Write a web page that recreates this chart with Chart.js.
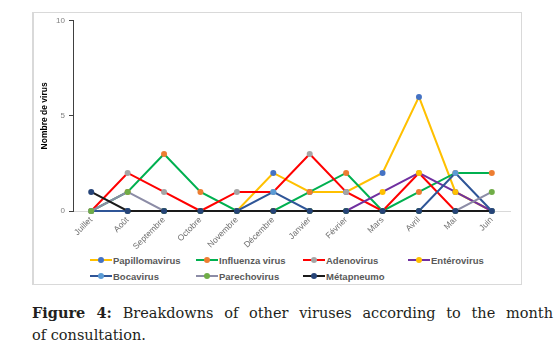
<!DOCTYPE html>
<html lang="fr">
<head>
<meta charset="utf-8">
<script src="https://cdn.jsdelivr.net/npm/chart.js@4.4.1/dist/chart.umd.min.js"></script>
<style>
   body { margin: 0; background: #fff; width: 560px; height: 354px; position: relative; overflow: hidden; }
   .frame { position: absolute; left: 32px; top: 12px; width: 490px; height: 273px; box-sizing: border-box; border: 1px solid #d9d9d9; border-left-width: 2px; }
   #virus-chart { position: absolute; left: 32px; top: 12px; }
   .legend { position: absolute; left: 0; top: 0; font: bold 9.5px "Liberation Sans", Arial, sans-serif; color: #595959; }
   .legend-item { position: absolute; white-space: nowrap; display: flex; align-items: center; }
   .legend-line { position: relative; width: 22px; height: 2px; margin-right: 1px; }
   .legend-dot { position: absolute; left: 8px; top: -2px; width: 6px; height: 6px; border-radius: 50%; }
   .caption { position: absolute; left: 32px; top: 302px; width: 521px; font: 14.5px/22px "DejaVu Serif", "Liberation Serif", serif; color: #231f20; }
   .caption .first { text-align: justify; text-align-last: justify; }
   .caption b { font-weight: bold; }
</style>
</head>
<body>
<div class="frame"></div>
<canvas id="virus-chart" width="490" height="240"></canvas>
<div class="legend" id="legend"></div>
<div class="caption"><div class="first"><b>Figure 4:</b> Breakdowns of other viruses according to the month</div><div>of consultation.</div></div>

<script>
// Données du graphique
const months = ['Juillet', 'Août', 'Septembre', 'Octobre', 'Novembre', 'Décembre', 'Janvier', 'Février', 'Mars', 'Avril', 'Mai', 'Juin'];
const seriesNames = ['Papillomavirus', 'Influenza virus', 'Adenovirus', 'Entérovirus', 'Bocavirus', 'Parechovirus', 'Métapneumo'];
const papillomavirus = [0, 0, 0, 0, 0, 2, 1, 1, 2, 6, 1, 0];
const influenza = [0, 1, 3, 1, 0, 0, 1, 2, 0, 1, 2, 2];
const adenovirus = [0, 2, 1, 0, 1, 1, 3, 1, 0, 2, 0, 0];
const enterovirus = [0, 0, 0, 0, 0, 0, 0, 0, 1, 2, 1, 0];
const bocavirus = [0, 0, 0, 0, 0, 1, 0, 0, 0, 0, 2, 0];
const parechovirus = [0, 1, 0, 0, 0, 0, 0, 0, 0, 0, 0, 1];
const metapneumo = [1, 0, 0, 0, 0, 0, 0, 0, 0, 0, 0, 0];
const yTicks = [0, 5, 10];

document.addEventListener('DOMContentLoaded', function () {
   const values = [papillomavirus, influenza, adenovirus, enterovirus, bocavirus, parechovirus, metapneumo];
   // couleur de ligne / couleur de marqueur (comme dans Excel)
   const lineColors = ['#ffc000', '#00b050', '#ff0000', '#7030a0', '#2f5597', '#8c8ca6', '#1a1a1a'];
   const markerColors = ['#4472c4', '#ed7d31', '#a5a5a5', '#ffc000', '#5b9bd5', '#70ad47', '#264478'];

   const datasets = seriesNames.map((name, i) => ({
      label: name,
      data: values[i],
      borderColor: lineColors[i],
      backgroundColor: markerColors[i],
      pointBackgroundColor: markerColors[i],
      pointBorderColor: markerColors[i],
      borderWidth: 2,
      pointRadius: 3,
      pointBorderWidth: 0,
      tension: 0,
      clip: false,
      order: seriesNames.length - i
   }));

   const ctx = document.getElementById('virus-chart').getContext('2d');
   new Chart(ctx, {
      type: 'line',
      data: { labels: months, datasets: datasets },
      options: {
         responsive: false,
         animation: false,
         layout: { padding: { left: 0, right: 12, top: 8, bottom: 0 } },
         plugins: {
            legend: { display: false },
            tooltip: { enabled: false }
         },
         scales: {
            x: {
               offset: true,
               grid: { drawOnChartArea: false, drawTicks: false },
               border: { color: '#d9d9d9', width: 1 },
               ticks: {
                  color: '#6f6f6f',
                  font: { family: 'Liberation Sans', size: 8.5 },
                  minRotation: 45,
                  maxRotation: 45,
                  padding: 4,
                  autoSkip: false
               },
               afterFit: function (scale) { scale.height = 41; }
            },
            y: {
               min: 0,
               max: 10,
               grid: { drawOnChartArea: false, drawTicks: true, tickLength: 4, color: '#404040' },
               border: { color: '#404040', width: 1 },
               ticks: {
                  color: '#7f7f7f',
                  font: { family: 'Liberation Sans', size: 8 },
                  padding: 4
               },
               afterBuildTicks: function (scale) {
                  scale.ticks = yTicks.map(v => ({ value: v }));
               },
               title: {
                  display: true,
                  text: 'Nombre de virus',
                  color: '#000',
                  font: { family: 'Liberation Sans', size: 8.5, weight: 'bold' },
                  padding: { top: 8, bottom: 0 }
               },
               afterFit: function (scale) { scale.width = 41; }
            }
         }
      }
   });

   // Légende HTML (ligne + marqueur), 4 colonnes
   const legend = document.getElementById('legend');
   const colX = [90, 196, 303, 408];
   const rowY = [255, 271];
   seriesNames.forEach((name, i) => {
      const item = document.createElement('div');
      item.className = 'legend-item';
      item.style.left = colX[i % 4] + 'px';
      item.style.top = rowY[Math.floor(i / 4)] + 'px';
      item.style.height = '10px';
      item.innerHTML = `<span class="legend-line" style="background:${lineColors[i]}"><span class="legend-dot" style="background:${markerColors[i]}"></span></span>${name}`;
      legend.appendChild(item);
   });
});
</script>
</body>
</html>
